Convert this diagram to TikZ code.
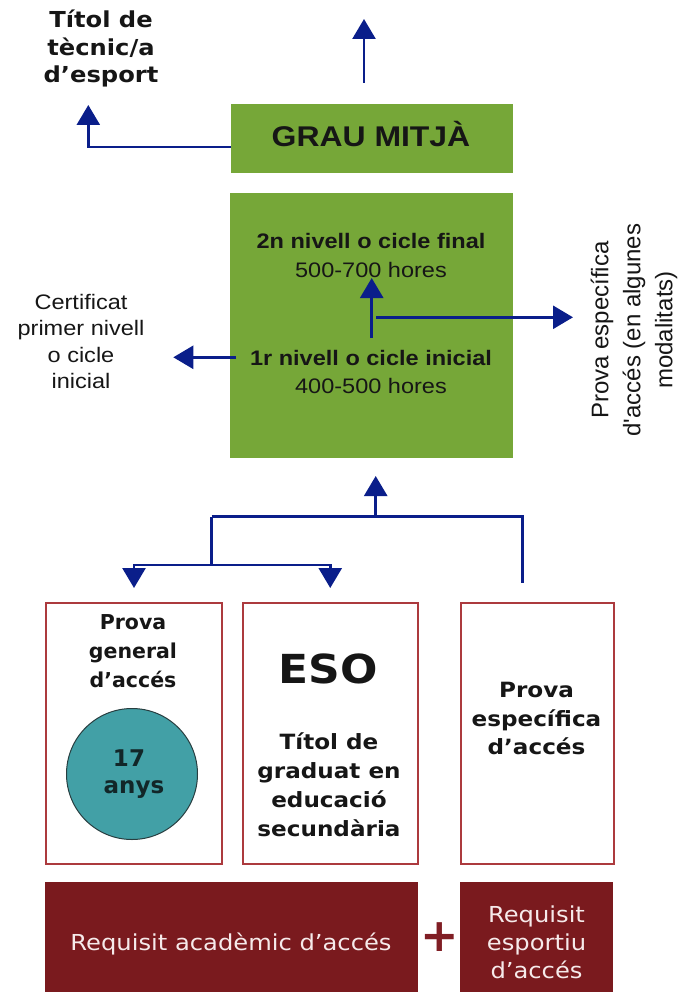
\documentclass[tikz,border=0pt]{standalone}
\usepackage{fontspec}
\usetikzlibrary{arrows.meta}
\newfontfamily\arialS[FakeStretch=1.12]{Liberation Sans}
\newfontfamily\arialN{Liberation Sans}
\newfontfamily\verdS[FakeStretch=1.1]{DejaVu Sans}
\newfontfamily\verdN{DejaVu Sans}
\definecolor{navy}{RGB}{10,30,138}
\definecolor{leaf}{RGB}{118,167,56}
\definecolor{boxred}{RGB}{172,58,62}
\definecolor{maroon}{RGB}{122,26,30}
\definecolor{plusred}{RGB}{128,30,36}
\definecolor{teal2}{RGB}{66,160,166}
\definecolor{ink}{RGB}{22,22,22}
\definecolor{pinkw}{RGB}{246,234,234}
\tikzset{
  conn/.style={navy, line width=2.6pt},
  arr/.style={conn, -{Triangle[length=20pt,width=23pt]}},
  greenbox/.style={fill=leaf, draw=none, inner sep=0pt, anchor=north west},
  whitebox/.style={draw=boxred, line width=2pt, fill=white, inner sep=0pt, anchor=north west},
  darkbox/.style={fill=maroon, draw=none, inner sep=0pt, anchor=north west},
  lbl/.style={inner sep=0pt, anchor=base, text=ink},
  titlefont/.style={lbl, font=\verdS\bfseries\fontsize{22}{27}\selectfont},
  arialfont/.style={lbl, font=\arialS\fontsize{21}{26}\selectfont},
  greenbold/.style={lbl, font=\arialS\bfseries\fontsize{21}{26}\selectfont},
  greenreg/.style={lbl, font=\arialS\fontsize{21}{26}\selectfont},
  boxfont/.style={lbl, font=\verdS\bfseries\fontsize{21}{26}\selectfont},
  boxfontn/.style={lbl, font=\verdN\bfseries\fontsize{20.5}{26}\selectfont},
  darkfont/.style={inner sep=0pt, anchor=base, text=pinkw, font=\verdS\fontsize{22}{26}\selectfont},
}
\begin{document}
\begin{tikzpicture}[x=1pt,y=-1pt]
\useasboundingbox (0,0) rectangle (689,992);

% ---- green boxes
\node[greenbox, minimum width=282pt, minimum height=69pt] (grau) at (231,104) {};
\node[lbl, font=\arialS\bfseries\fontsize{28.5}{34}\selectfont] (grautxt) at (371,147) {GRAU MITJÀ};
\node[greenbox, minimum width=283pt, minimum height=265pt] (big) at (230,193) {};
\node[greenbold] (n2a) at (371,248) {2n nivell o cicle final};
\node[greenreg]  (n2b) at (371,277) {500-700 hores};
\node[greenbold] (n1a) at (371,365) {1r nivell o cicle inicial};
\node[greenreg]  (n1b) at (371,393) {400-500 hores};

% ---- title top left
\node[titlefont] (t1) at (101,28) {Títol de};
\node[titlefont] (t2) at (101,55.5) {tècnic/a};
\node[titlefont] (t3) at (101,83) {d’esport};

% ---- certificat
\node[arialfont] (c1) at (81,309) {Certificat};
\node[arialfont] (c2) at (81,335) {primer nivell};
\node[arialfont] (c3) at (81,362) {o cicle};
\node[arialfont] (c4) at (81,388) {inicial};

% ---- rotated text
\node[inner sep=0pt, text=ink, rotate=90, align=center,
      font=\arialN\fontsize{24}{32}\selectfont] (prova) at (634,330)
      {Prova específica\\d'accés (en algunes\\modalitats)};

% ---- top arrows
\coordinate (tittip) at (88.3,105);
\draw[arr] ([yshift=-8.5pt]grau.west) -| (tittip);
\coordinate (upbase) at (364,83);
\coordinate (uptip) at (364,19);
\draw[arr] (upbase) -- (uptip);

% ---- arrows inside big box
\coordinate (vin1) at (371.7,338);
\coordinate (vin2) at (371.7,278);
\draw[arr] (vin1) -- (vin2);
\coordinate (hin1) at (376,317.3);
\coordinate (hin2) at (573,317.3);
\draw[arr] (hin1) -- (hin2);
\coordinate (lin1) at (236,357.3);
\coordinate (lin2) at (173.3,357.3);
\draw[arr] (lin1) -- (lin2);

% ---- lower white boxes
\node[whitebox, minimum width=176pt, minimum height=261pt] (pg) at (45,602) {};
\node[whitebox, minimum width=175.5pt, minimum height=261pt] (eso) at (241.5,602) {};
\node[whitebox, minimum width=153pt, minimum height=261pt] (pe) at (460,602) {};

\node[boxfontn] (pg1) at (133,629) {Prova};
\node[boxfontn] (pg2) at (133,658) {general};
\node[boxfontn] (pg3) at (133,687) {d’accés};
\node[circle, fill=teal2, draw={rgb,255:red,40;green,62;blue,64}, line width=1pt,
      minimum size=131pt, inner sep=0pt] (age) at (132,774) {};
\node[lbl, text={rgb,255:red,18;green,38;blue,40}, font=\verdN\bfseries\fontsize{23}{27}\selectfont] (age1) at (129,766) {17};
\node[lbl, text={rgb,255:red,18;green,38;blue,40}, font=\verdN\bfseries\fontsize{23}{27}\selectfont] (age2) at (134,793) {anys};

\node[lbl, font=\verdS\bfseries\fontsize{40}{44}\selectfont] (esot) at (328,683) {ESO};
\node[boxfont] (e1) at (329,749) {Títol de};
\node[boxfont] (e2) at (329,778) {graduat en};
\node[boxfont] (e3) at (329,807) {educació};
\node[boxfont] (e4) at (329,836) {secundària};

\node[boxfont] (p1) at (536.5,697) {Prova};
\node[boxfont] (p2) at (536.5,726) {específica};
\node[boxfont] (p3) at (536.5,754) {d’accés};

% ---- lower connectors
\coordinate (jl) at (211.7,516.7);
\coordinate (jm) at (375.7,516.7);
\coordinate (jr) at (522.3,516.7);
\coordinate (jrend) at (522.3,583.3);
\coordinate (jd) at (211.7,565);
\coordinate (uptip2) at (375.7,476);
\draw[conn] (jl) -- (jr) -- (jrend);
\draw[conn] (jl) -- (jd);
\draw[arr] (jd) -| ([yshift=14pt]pg.north);
\draw[arr] (jd) -| ([yshift=14pt]eso.north);
\draw[arr] (jm) -- (uptip2);

% ---- dark boxes
\node[darkbox, minimum width=373pt, minimum height=112pt] (acad) at (45,882) {};
\node[darkbox, minimum width=153pt, minimum height=112pt] (esp) at (460,882) {};
\node[darkfont] (a1) at (231,950) {Requisit acadèmic d’accés};
\node[darkfont] (s1) at (536.5,922) {Requisit};
\node[darkfont] (s2) at (536.5,950) {esportiu};
\node[darkfont] (s3) at (536.5,978) {d’accés};
\node[inner sep=0pt, text=plusred, font=\verdN\bfseries\fontsize{46}{46}\selectfont] (plus) at (440,937) {+};
\end{tikzpicture}
\end{document}
